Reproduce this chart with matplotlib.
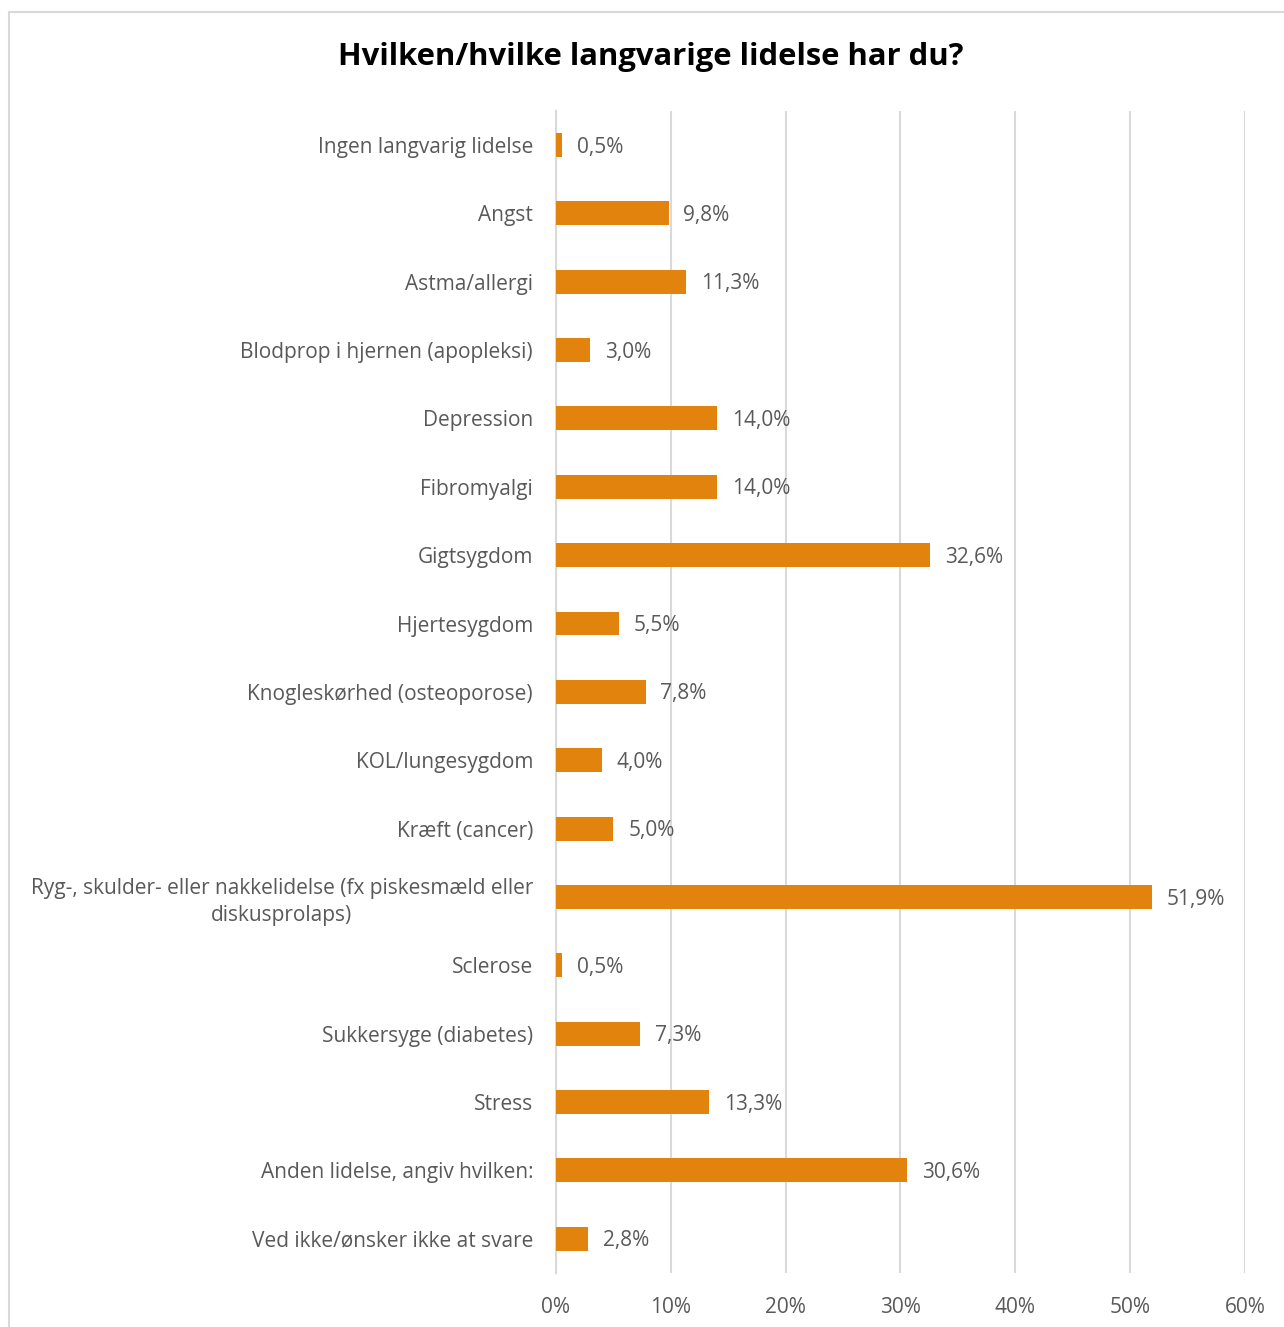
import matplotlib.pyplot as plt
from matplotlib.patches import Rectangle
from matplotlib.ticker import FuncFormatter

plt.rcParams['font.family'] = ['Open Sans', 'DejaVu Sans']

categories = ['Ingen langvarig lidelse', 'Angst', 'Astma/allergi',
              'Blodprop i hjernen (apopleksi)', 'Depression', 'Fibromyalgi',
              'Gigtsygdom', 'Hjertesygdom', 'Knogleskørhed (osteoporose)',
              'KOL/lungesygdom', 'Kræft (cancer)',
              'Ryg-, skulder- eller nakkelidelse (fx piskesmæld eller\ndiskusprolaps)',
              'Sclerose', 'Sukkersyge (diabetes)', 'Stress',
              'Anden lidelse, angiv hvilken:', 'Ved ikke/ønsker ikke at svare']
values = [0.5, 9.8, 11.3, 3.0, 14.0, 14.0, 32.6, 5.5, 7.8, 4.0, 5.0,
          51.9, 0.5, 7.3, 13.3, 30.6, 2.8]
xticks = [0, 10, 20, 30, 40, 50, 60]

grey = '#595959'
fs = 15
fig = plt.figure(figsize=(12.84, 13.27), dpi=100)
ax = fig.add_axes([0.433, 0.0407, 0.5366, 0.8758])

pos = list(range(len(categories)))
ax.barh(pos, values, height=0.35, color='#E2830E', zorder=3)
for p, v in zip(pos, values):
    ax.text(v + 1.3, p + 0.03, f'{v:.1f}%'.replace('.', ','), va='center', ha='left',
            fontsize=fs, color=grey)

ax.set_ylim(len(categories) - 0.5, -0.5)
ax.set_xlim(0, 60)
ax.set_yticks(pos)
ax.set_yticklabels(categories, fontsize=fs, color=grey)
for lab in ax.get_yticklabels():
    lab.set_multialignment('center')
    lab.set_linespacing(1.35)
ax.set_xticks(xticks)
ax.xaxis.set_major_formatter(FuncFormatter(lambda x, _: f'{x:.0f}%'))
ax.tick_params(axis='x', labelsize=fs, labelcolor=grey, length=0, pad=17)
ax.tick_params(axis='y', length=0, pad=16.5)
ax.grid(axis='x', color='#D9D9D9', linewidth=1.5, zorder=0)
for s in ['top', 'right', 'bottom']:
    ax.spines[s].set_visible(False)
ax.spines['left'].set_color('#D9D9D9')
ax.spines['left'].set_linewidth(1.5)

fig.text(0.507, 0.957, 'Hvilken/hvilke langvarige lidelse har du?', ha='center',
         va='center', fontsize=22.3, fontweight='bold', color='black')

fig.patches.append(Rectangle((9 / 1284, -0.02), 1.05, 1 - 12 / 1327 + 0.02,
                             transform=fig.transFigure, fill=False,
                             edgecolor='#D9D9D9', linewidth=1.5))

fig.savefig('out.png', dpi=100)
